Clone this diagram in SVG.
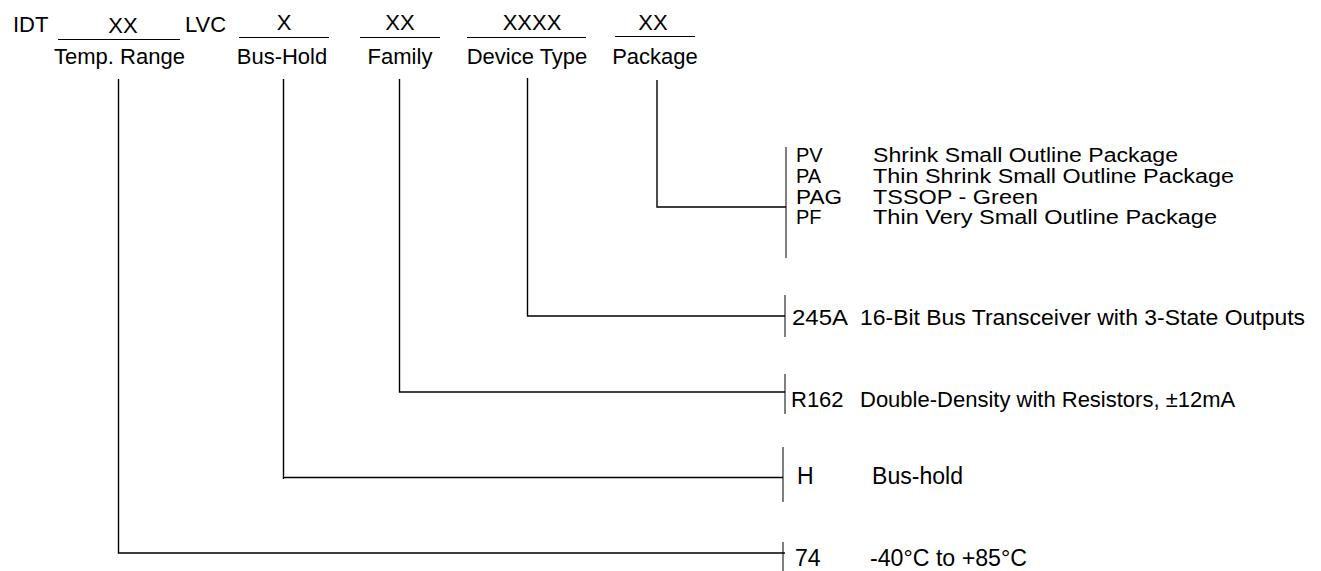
<svg xmlns="http://www.w3.org/2000/svg" width="1321" height="571" viewBox="0 0 1321 571">
<style>
text{font-family:"Liberation Sans",Arial,sans-serif;font-size:22px;fill:#000}
.m{text-anchor:middle}
.s{font-size:20px}
.l{font-size:23px}
.u{stroke:#000;stroke-width:1;fill:none}
.c{stroke:#000;stroke-width:1.4;fill:none}
.b{stroke:#000;stroke-width:1;fill:none}
</style>
<rect width="1321" height="571" fill="#fff"/>
<g id="header">
<text x="13" y="32">IDT</text>
<text x="185" y="32">LVC</text>
</g>
<g id="temp-range">
<text class="m" x="123" y="33">XX</text>
<line class="u" x1="58" y1="39.5" x2="180" y2="39.5"/>
<text class="m" x="119.5" y="64">Temp. Range</text>
</g>
<g id="bus-hold">
<text class="m" x="284" y="30">X</text>
<line class="u" x1="239" y1="37.5" x2="329" y2="37.5"/>
<text class="m" x="282" y="64">Bus-Hold</text>
</g>
<g id="family">
<text class="m" x="400" y="30">XX</text>
<line class="u" x1="360" y1="37.5" x2="440" y2="37.5"/>
<text class="m" x="400" y="64">Family</text>
</g>
<g id="device-type">
<text class="m" x="532" y="30">XXXX</text>
<line class="u" x1="467" y1="37.5" x2="586" y2="37.5"/>
<text class="m" x="527" y="64">Device Type</text>
</g>
<g id="package">
<text class="m" x="653" y="30">XX</text>
<line class="u" x1="615" y1="36.5" x2="695" y2="36.5"/>
<text class="m" x="655" y="64">Package</text>
</g>
<g id="connectors">
<path class="c" d="M118.5 79 V553 H785"/>
<path class="c" d="M283.5 79 V479 M283.5 477.5 H783"/>
<path class="c" d="M399.5 79 V392 H785"/>
<path class="c" d="M527.5 78 V316 H785"/>
<path class="c" d="M657 80 V207 H786"/>
</g>
<g id="package-options">
<line class="b" x1="786" y1="147" x2="786" y2="258"/>
<text class="s" x="796" y="162">PV</text><text class="s" x="873" y="162" textLength="305" lengthAdjust="spacingAndGlyphs">Shrink Small Outline Package</text>
<text class="s" x="796" y="183">PA</text><text class="s" x="873" y="183" textLength="361" lengthAdjust="spacingAndGlyphs">Thin Shrink Small Outline Package</text>
<text class="s" x="796" y="204" textLength="46" lengthAdjust="spacingAndGlyphs">PAG</text><text class="s" x="873" y="204" textLength="165" lengthAdjust="spacingAndGlyphs">TSSOP - Green</text>
<text class="s" x="796" y="224">PF</text><text class="s" x="873" y="224" textLength="344" lengthAdjust="spacingAndGlyphs">Thin Very Small Outline Package</text>
</g>
<g id="device-options">
<line class="b" x1="785" y1="295" x2="785" y2="337"/>
<text x="792" y="325" textLength="56" lengthAdjust="spacingAndGlyphs">245A</text><text x="860" y="325" textLength="445" lengthAdjust="spacingAndGlyphs">16-Bit Bus Transceiver with 3-State Outputs</text>
</g>
<g id="family-options">
<line class="b" x1="785" y1="374" x2="785" y2="414"/>
<text x="791" y="407">R162</text><text x="860" y="407">Double-Density with Resistors, ±12mA</text>
</g>
<g id="bushold-options">
<line class="b" x1="783" y1="447" x2="783" y2="502"/>
<text class="l" x="797" y="484">H</text><text class="l" x="872" y="484" textLength="91" lengthAdjust="spacingAndGlyphs">Bus-hold</text>
</g>
<g id="temp-options">
<line class="b" x1="783" y1="542" x2="783" y2="571"/>
<text class="l" x="795" y="566">74</text><text class="l" x="870" y="566" textLength="157" lengthAdjust="spacingAndGlyphs">-40°C to +85°C</text>
</g>
</svg>
